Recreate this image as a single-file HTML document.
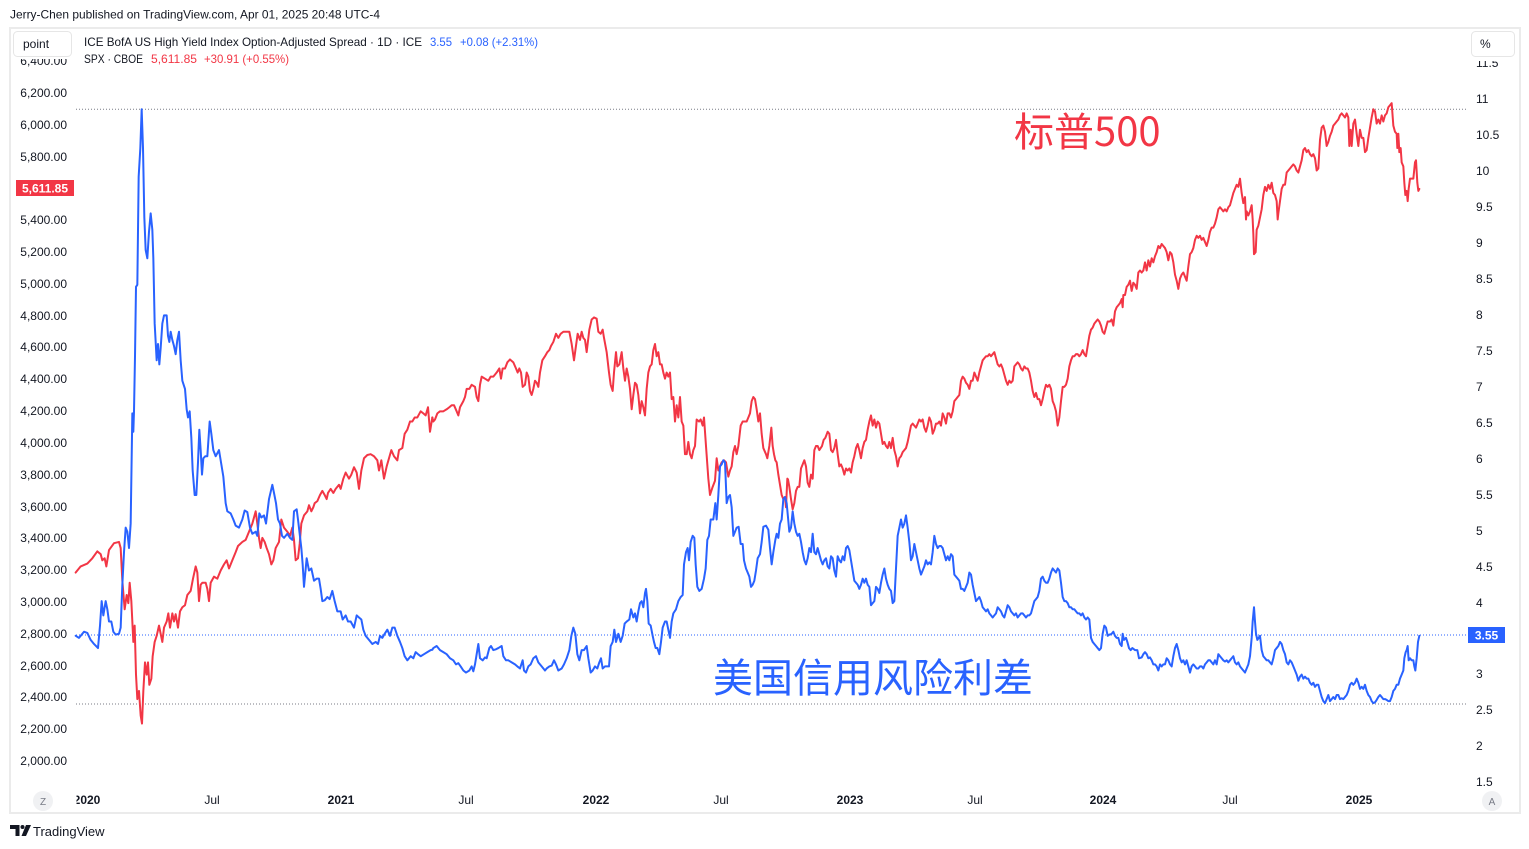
<!DOCTYPE html>
<html>
<head>
<meta charset="utf-8">
<style>
  html,body{margin:0;padding:0;background:#fff;}
  body{width:1529px;height:849px;overflow:hidden;position:relative;font-family:"Liberation Sans","Noto Sans CJK SC",sans-serif;}
  svg{position:absolute;left:0;top:0;}
  .ax{font-family:"Liberation Sans",sans-serif;font-size:12px;fill:#131722;}
  .lg{font-family:"Liberation Sans",sans-serif;font-size:12px;}
</style>
</head>
<body>
<svg width="1529" height="849" viewBox="0 0 1529 849" xmlns="http://www.w3.org/2000/svg">
  <defs>
    <clipPath id="xclip"><rect x="76.5" y="785" width="1390" height="25"/></clipPath>
  </defs>
  <!-- header -->
  <text x="10" y="18.5" class="lg" fill="#131722" textLength="370" lengthAdjust="spacingAndGlyphs">Jerry-Chen published on TradingView.com, Apr 01, 2025 20:48 UTC-4</text>

  <!-- frame -->
  <rect x="10" y="28" width="1510" height="785" fill="#fff" stroke="#ebebeb" stroke-width="2"/>

  <!-- left axis labels -->
  <g class="ax" text-anchor="end">
    <text x="67" y="65">6,400.00</text>
    <text x="67" y="97">6,200.00</text>
    <text x="67" y="129">6,000.00</text>
    <text x="67" y="161">5,800.00</text>
    <text x="67" y="224">5,400.00</text>
    <text x="67" y="256">5,200.00</text>
    <text x="67" y="288">5,000.00</text>
    <text x="67" y="320">4,800.00</text>
    <text x="67" y="351">4,600.00</text>
    <text x="67" y="383">4,400.00</text>
    <text x="67" y="415">4,200.00</text>
    <text x="67" y="447">4,000.00</text>
    <text x="67" y="479">3,800.00</text>
    <text x="67" y="511">3,600.00</text>
    <text x="67" y="542">3,400.00</text>
    <text x="67" y="574">3,200.00</text>
    <text x="67" y="606">3,000.00</text>
    <text x="67" y="638">2,800.00</text>
    <text x="67" y="670">2,600.00</text>
    <text x="67" y="701">2,400.00</text>
    <text x="67" y="733">2,200.00</text>
    <text x="67" y="765">2,000.00</text>
  </g>

  <!-- right axis labels -->
  <g class="ax" text-anchor="start">
    <text x="1476" y="67">11.5</text>
    <text x="1476" y="103">11</text>
    <text x="1476" y="139">10.5</text>
    <text x="1476" y="175">10</text>
    <text x="1476" y="211">9.5</text>
    <text x="1476" y="247">9</text>
    <text x="1476" y="283">8.5</text>
    <text x="1476" y="319">8</text>
    <text x="1476" y="355">7.5</text>
    <text x="1476" y="391">7</text>
    <text x="1476" y="427">6.5</text>
    <text x="1476" y="463">6</text>
    <text x="1476" y="499">5.5</text>
    <text x="1476" y="535">5</text>
    <text x="1476" y="571">4.5</text>
    <text x="1476" y="607">4</text>
    <text x="1476" y="678">3</text>
    <text x="1476" y="714">2.5</text>
    <text x="1476" y="750">2</text>
    <text x="1476" y="786">1.5</text>
  </g>

  <!-- x axis labels -->
  <g class="ax" text-anchor="middle" clip-path="url(#xclip)">
    <text x="87" y="804" font-weight="bold">2020</text>
    <text x="212" y="804">Jul</text>
    <text x="341" y="804" font-weight="bold">2021</text>
    <text x="466" y="804">Jul</text>
    <text x="596" y="804" font-weight="bold">2022</text>
    <text x="721" y="804">Jul</text>
    <text x="850" y="804" font-weight="bold">2023</text>
    <text x="975" y="804">Jul</text>
    <text x="1103" y="804" font-weight="bold">2024</text>
    <text x="1230" y="804">Jul</text>
    <text x="1359" y="804" font-weight="bold">2025</text>
  </g>

  <!-- Z / A buttons -->
  <circle cx="43" cy="801" r="10" fill="#f0f1f3"/>
  <text x="43" y="805" font-family="Liberation Sans, sans-serif" font-size="10" fill="#787b86" text-anchor="middle">Z</text>
  <circle cx="1492" cy="801" r="10" fill="#f0f1f3"/>
  <text x="1492" y="805" font-family="Liberation Sans, sans-serif" font-size="10" fill="#787b86" text-anchor="middle">A</text>

  <!-- dotted lines -->
  <line x1="76" y1="109.3" x2="1466" y2="109.3" stroke="#787b86" stroke-width="1" stroke-dasharray="1,2"/>
  <line x1="76" y1="704" x2="1466" y2="704" stroke="#787b86" stroke-width="1" stroke-dasharray="1,2"/>
  <line x1="76" y1="635" x2="1468" y2="635" stroke="#2962ff" stroke-width="1" stroke-dasharray="1,2"/>

  <!-- Chinese annotations -->
  <text x="1014" y="146" font-family="Noto Sans CJK SC, sans-serif" font-size="40" fill="#f23645">标普500</text>
  <text x="713" y="692" font-family="Noto Sans CJK SC, sans-serif" font-size="40" fill="#2962ff">美国信用风险利差</text>

  <!-- SPX red -->
  <g fill="none" stroke="#f23645" stroke-width="2" stroke-linejoin="round" stroke-linecap="round">
    <polyline vector-effect="non-scaling-stroke" transform="translate(74,95) scale(0.333333,0.408163)" points="5,1170 20,1155 40,1148 55,1135 70,1118 80,1125 85,1140 92,1135 97,1155 105,1115 120,1098 135,1095 140,1110 145,1190 152,1260 158,1225 163,1245 167,1195 172,1240 178,1340 182,1300 186,1420 190,1480 195,1460 200,1520 204,1540 208,1460 213,1390 218,1420 222,1390 226,1445 232,1430 236,1375 242,1340 248,1325 255,1300 260,1320 265,1340 270,1305 278,1290 283,1270 288,1305 295,1270 300,1290 305,1272 312,1305 318,1265 325,1255 333,1250 340,1225 350,1215 357,1185 365,1155 370,1170 375,1240 380,1200 385,1195 395,1195 400,1210 405,1240 410,1195 420,1180 430,1185 440,1165 450,1150 458,1140 465,1160 475,1140 485,1120 492,1105 505,1095 515,1090 525,1070 535,1050 545,1020 550,1050 555,1085 560,1110 565,1085 572,1095 578,1110 585,1125 592,1150 598,1140 605,1110 615,1095 622,1040 630,1060 640,1070 648,1080 655,1060 660,1090 665,1140 672,1135 677,1100 682,1050 690,1030 700,1020 705,1005 712,1020 718,1010 722,1000 730,995 738,980 745,970 752,980 758,990 762,975 770,965 778,975 785,965 795,955 800,965 808,940 815,925 825,940 832,930 840,912 848,925 855,965 862,920 870,890 880,882 890,880 900,885 910,895 915,920 922,895 930,940 938,910 945,890 952,870 960,885 970,895 975,870 985,865 992,830 1000,820 1008,800 1015,800 1022,790 1030,790 1040,775 1048,780 1055,785 1062,765 1068,825 1075,790"/>
    <polyline vector-effect="non-scaling-stroke" transform="translate(430,95) scale(0.333333,0.408163)" points="7,790 10,800 15,795 22,780 30,775 40,775 50,770 58,765 65,760 72,760 80,775 85,785 90,765 100,750 105,740 110,720 118,720 125,710 135,715 140,740 145,750 150,710 155,690 165,695 175,700 182,690 190,690 200,680 208,670 213,695 218,670 225,670 232,655 240,648 250,655 258,670 263,680 268,670 273,680 278,715 285,710 290,680 295,690 300,725 305,735 310,720 315,700 320,705 325,715 330,680 337,650 345,640 352,630 358,625 363,615 370,605 378,585 385,595 392,585 400,580 410,580 418,580 425,610 432,650 437,620 443,585 450,600 455,580 460,595 465,600 470,630 478,575 485,550 492,545 500,548 505,580 512,585 518,575 522,595 530,630 537,680 542,710 548,725 552,680 558,630 562,665 568,660 575,630 580,670 585,700 590,670 595,690 600,720 605,770 610,735 615,705 620,710 625,735 630,780 635,750 640,765 645,785 650,720 655,680 660,665 665,660 670,625 675,610 680,640 685,630 690,660 695,660 700,680 705,695 710,680 715,690 720,680 725,745 730,740 735,800 740,760 745,790 750,740 755,800 760,810 765,880 770,880 775,850 780,880 785,890 790,870 795,860 800,795 807,800 812,795 818,810 822,790 828,860 835,940 840,980 848,960 855,945 860,890 865,920 870,910 875,900 882,895 888,900 895,935 900,920 905,910 910,875 915,860 920,880 925,860 932,810 938,800 945,800 950,800 955,790 960,780 965,750 970,740 975,745 980,770 985,800 990,780 995,830 1000,865 1008,880 1012,890 1018,860 1024,815 1028,860 1032,880 1036,895 1040,900 1045,930 1050,955 1055,980 1060,990 1065,985 1068,1010 1072,940 1074,942"/>
    <polyline vector-effect="non-scaling-stroke" transform="translate(786,95) scale(0.333333,0.408163)" points="6,942 10,960 15,990 20,1015 25,1000 30,970 35,960 40,960 45,915 50,905 55,895 60,910 65,950 70,960 75,930 80,940 85,870 90,860 95,860 100,870 108,860 113,845 118,840 125,825 130,830 135,870 140,875 145,865 150,845 155,880 160,910 165,905 170,915 175,930 180,915 185,920 190,915 195,925 200,900 205,885 210,865 215,855 220,870 225,890 230,865 235,850 240,845 245,820 250,800 255,785 260,810 265,795 270,815 275,800 280,805 285,830 290,855 295,850 300,860 305,865 310,850 315,865 320,840 325,870 330,885 335,910 340,890 345,885 350,875 355,870 360,865 365,850 370,830 375,810 380,805 390,815 395,805 400,795 405,800 410,795 415,815 420,825 425,810 430,790 435,800 440,830 445,820 450,805 455,805 460,800 465,810 470,780 475,790 480,805 485,780 490,780 495,790 500,775 505,750 510,745 515,740 520,735 525,700 530,690 535,695 540,705 545,710 550,720 555,700 560,700 565,680 570,690 575,700 580,680 585,665 590,650 595,645 600,640 605,640 610,635 615,640 620,635 625,630 630,645 635,660 640,665 645,660 650,670 655,685 660,700 665,710 670,700 675,705 680,700 685,665 690,660 695,655 700,660 705,670 710,675 715,665 720,670 725,670 730,680 735,700 740,725 745,740 750,730 755,745 760,745 765,760 770,745 775,725 780,710 785,715 790,710 795,720 800,750 805,760 810,775 815,810 820,790 825,750 830,715 835,715 840,710 845,695 850,665 855,650 860,640 865,640 870,635 875,635 880,640 885,635 890,625 895,635 900,640 905,615 910,590 915,575 920,570 925,560 930,555 935,550 940,555 945,565 950,580 955,585 960,570 965,555 970,555"/>
    <polyline vector-effect="non-scaling-stroke" transform="translate(1110,95) scale(0.333333,0.408163)" points="0,555 5,550 10,565 15,530 20,520 25,515 30,510 35,500 38,520 40,490 45,490 50,470 55,465 60,455 65,480 70,460 75,465 80,475 85,435 90,430 95,435 100,430 105,410 110,430 115,405 120,420 125,400 130,410 135,395 140,385 145,370 150,375 155,365 160,370 165,375 170,385 175,405 180,385 185,390 190,410 195,440 200,455 205,475 210,450 215,440 220,435 225,445 230,455 235,420 240,390 245,385 250,375 255,355 260,345 265,350 270,345 275,355 280,350 285,360 290,370 295,355 300,335 305,325 310,325 315,315 320,300 325,280 330,275 335,280 340,285 345,280 350,285 355,275 360,270 365,255 370,240 375,230 380,220 385,225 390,205 395,240 400,265 405,250 408,305 410,285 415,295 420,285 425,270 428,305 430,340 432,390 437,385 440,330 445,320 450,300 455,280 460,245 465,225 470,235 475,220 480,230 485,215 490,240 495,245 500,260 503,305 505,290 510,260 515,230 520,220 525,220 530,190 535,185 540,180 545,175 550,170 555,175 560,185 565,190 570,175 575,160 580,135 585,130 590,140 595,135 600,145 605,150 610,145 615,155 620,185 625,180 630,110 635,80 640,75 645,90 650,125 655,115 660,100 665,90 670,75 675,70 680,65 685,60 690,50 695,45 700,50 705,55 710,45 715,55 718,125 722,85 725,125 730,70 735,60 740,95 745,125 750,85 755,105 760,105 765,140 770,135 775,105 780,80 785,55 790,35 795,40 800,70 805,60 810,70 815,50 820,65 825,50 830,45 835,30 840,25 845,20 850,75 855,90 860,95 862,130 865,95 868,140 872,130 875,165 880,175 883,215 886,245 890,235 893,260 896,230 900,205 905,205 910,205 915,165 918,160 922,215 925,235 928,230"/>
  </g>

  <!-- HY OAS blue -->
  <g fill="none" stroke="#2962ff" stroke-width="2" stroke-linejoin="round" stroke-linecap="round">
    <polyline vector-effect="non-scaling-stroke" transform="translate(74,95) scale(0.333333,0.408163)" points="5,1325 15,1330 30,1315 40,1318 50,1335 60,1345 72,1355 78,1300 83,1240 88,1275 95,1240 100,1260 105,1290 112,1290 118,1315 125,1322 135,1320 140,1305 145,1200 150,1120 155,1060 160,1070 165,1110 170,1050 175,780 178,825 180,775 183,640 186,470 190,465 194,200 199,130 203,35 207,130 211,300 215,380 220,400 225,335 230,290 235,330 238,400 242,560 248,650 252,610 256,660 260,620 265,560 270,540 278,540 282,590 286,605 290,580 295,600 300,615 305,635 310,600 315,580 320,650 325,700 333,720 338,770 342,790 347,775 352,840 356,920 362,980 367,980 372,900 376,820 380,870 384,930 388,890 394,885 400,885 407,800 412,830 418,870 425,885 435,870 442,905 448,935 455,1000 460,1020 470,1025 478,1040 485,1055 495,1060 505,1040 512,1018 520,1022 528,1060 535,1075 545,1070 550,1080 556,1025 562,1035 570,1030 576,1050 585,990 595,955 600,975 606,1000 612,1040 618,1050 624,1080 630,1085 640,1075 648,1085 655,1090 660,1020 668,1015 672,1040 677,1075 682,1110 686,1150 690,1205 694,1170 698,1135 705,1165 712,1160 720,1190 728,1185 735,1185 740,1210 745,1240 752,1238 760,1230 767,1235 775,1215 782,1240 790,1265 800,1265 806,1285 815,1275 822,1290 830,1290 840,1305 848,1275 855,1280 862,1285 868,1310 875,1325 885,1335 895,1345 905,1340 912,1345 918,1325 925,1330 932,1320 940,1310 948,1325 955,1305 962,1305 970,1325 978,1340 985,1355 992,1375 1000,1385 1010,1375 1018,1380 1025,1365 1032,1370 1040,1375 1050,1370 1060,1365 1070,1360 1075,1359"/>
    <polyline vector-effect="non-scaling-stroke" transform="translate(430,95) scale(0.333333,0.408163)" points="7,1359 10,1355 20,1350 30,1360 40,1365 50,1370 60,1380 70,1385 78,1395 85,1392 92,1400 100,1410 108,1415 118,1410 125,1400 130,1412 135,1395 140,1370 145,1345 150,1380 158,1385 165,1378 170,1380 178,1355 183,1350 190,1360 198,1358 205,1355 215,1350 220,1375 228,1385 235,1385 245,1390 255,1395 262,1400 270,1405 278,1385 282,1410 288,1415 295,1400 302,1395 310,1380 318,1375 325,1390 335,1400 345,1410 350,1405 358,1400 365,1398 372,1385 378,1395 385,1410 395,1405 402,1395 410,1380 418,1360 424,1325 430,1305 436,1320 442,1370 448,1385 455,1360 462,1360 470,1350 475,1380 482,1415 488,1410 495,1400 502,1405 508,1390 513,1380 518,1405 525,1400 530,1400 537,1400 542,1350 548,1340 553,1310 558,1340 565,1320 572,1340 578,1325 584,1295 590,1290 598,1285 603,1260 610,1280 615,1270 620,1290 625,1265 630,1245 635,1240 640,1255 645,1220 648,1210 652,1240 656,1295 662,1300 668,1325 672,1340 677,1355 682,1355 688,1370 693,1340 698,1305 705,1290 710,1290 715,1310 720,1330 725,1290 730,1270 738,1260 745,1240 752,1230 758,1225 762,1150 768,1120 773,1110 777,1140 782,1095 788,1080 793,1085 797,1150 802,1205 808,1215 815,1210 822,1185 827,1160 832,1090 837,1080 842,1040 850,1040 856,1000 860,1040 865,980 870,910 875,905 880,895 885,900 890,1000 895,985 900,980 905,1010 910,1080 915,1070 920,1060 926,1058 932,1100 938,1100 942,1140 948,1160 953,1170 958,1180 963,1205 968,1200 973,1190 978,1165 983,1135 990,1125 995,1095 1000,1058 1008,1055 1015,1065 1020,1110 1025,1150 1030,1120 1036,1090 1040,1075 1045,1085 1050,1050 1055,1040 1060,990 1065,985 1070,1000 1074,1035"/>
    <polyline vector-effect="non-scaling-stroke" transform="translate(786,95) scale(0.333333,0.408163)" points="6,1035 10,1070 15,1060 20,1020 25,1050 30,1070 35,1080 40,1075 45,1095 50,1120 55,1140 60,1150 65,1135 70,1110 75,1120 80,1075 85,1120 90,1125 95,1110 100,1125 105,1140 110,1150 115,1140 120,1135 125,1155 130,1160 135,1130 140,1135 145,1165 150,1180 155,1130 160,1140 165,1145 170,1130 175,1140 180,1110 185,1105 190,1115 195,1140 200,1165 205,1190 210,1195 215,1200 220,1210 225,1200 230,1185 235,1195 240,1185 245,1200 250,1205 255,1250 260,1245 265,1240 270,1205 275,1210 280,1220 285,1195 290,1175 295,1160 300,1185 305,1200 310,1210 315,1215 320,1245 325,1240 330,1160 335,1080 340,1060 345,1040 350,1060 355,1050 360,1030 365,1060 370,1095 375,1140 380,1130 385,1100 390,1120 395,1140 400,1160 405,1175 410,1165 415,1155 420,1140 425,1150 430,1145 435,1150 440,1120 445,1080 450,1100 455,1110 460,1105 465,1105 470,1110 475,1125 480,1140 485,1130 490,1140 495,1125 500,1130 505,1175 510,1180 515,1185 520,1190 525,1210 530,1210 535,1215 540,1205 545,1195 550,1170 555,1175 560,1200 565,1220 570,1240 575,1235 580,1230 585,1240 590,1255 595,1260 600,1265 605,1260 610,1270 615,1275 620,1280 625,1275 630,1270 635,1255 640,1260 645,1265 650,1275 655,1280 660,1265 665,1250 670,1255 675,1265 680,1270 685,1275 690,1270 695,1280 700,1275 705,1270 710,1270 715,1275 720,1280 725,1275 730,1275 735,1270 740,1255 745,1240 750,1235 755,1230 760,1215 765,1185 770,1180 775,1190 780,1195 785,1195 790,1185 795,1170 800,1160 805,1165 810,1170 815,1160 820,1165 825,1195 830,1230 835,1240 840,1240 845,1245 850,1255 855,1255 860,1260 865,1260 870,1265 875,1270 880,1270 885,1275 890,1270 895,1280 900,1285 905,1280 910,1285 915,1330 920,1340 925,1345 930,1350 935,1355 940,1360 945,1355 950,1320 955,1300 960,1305 965,1325 970,1322"/>
    <polyline vector-effect="non-scaling-stroke" transform="translate(1110,95) scale(0.333333,0.408163)" points="0,1322 5,1320 10,1315 15,1325 20,1330 25,1330 30,1345 35,1350 38,1320 42,1335 48,1330 52,1340 57,1355 62,1360 67,1355 75,1360 82,1360 87,1380 95,1378 100,1370 105,1365 110,1370 115,1380 120,1378 125,1385 130,1395 135,1395 140,1400 145,1410 150,1395 155,1400 160,1395 165,1395 170,1380 175,1385 180,1395 185,1400 190,1375 195,1355 200,1345 205,1360 210,1380 215,1390 220,1385 225,1395 230,1385 235,1400 240,1415 245,1400 250,1395 255,1400 260,1405 265,1405 270,1400 275,1400 280,1405 285,1395 290,1390 295,1385 300,1385 305,1390 310,1395 315,1385 320,1395 325,1370 330,1375 335,1380 340,1385 345,1388 350,1385 355,1390 360,1385 365,1380 370,1375 375,1390 380,1395 385,1390 390,1400 395,1405 400,1410 405,1415 410,1405 415,1395 420,1375 425,1330 428,1290 432,1255 435,1290 438,1320 442,1335 446,1330 450,1325 455,1360 460,1375 465,1380 470,1385 475,1385 480,1390 485,1395 490,1380 495,1360 500,1355 505,1350 510,1340 515,1345 520,1360 525,1370 530,1390 535,1395 540,1385 545,1390 550,1400 555,1410 560,1420 565,1435 570,1425 575,1420 580,1430 585,1425 590,1430 595,1430 600,1440 605,1445 610,1440 615,1450 620,1445 625,1445 630,1460 635,1475 640,1485 645,1490 650,1480 655,1470 660,1485 665,1480 670,1475 675,1480 680,1470 685,1470 690,1480 695,1478 700,1480 705,1475 710,1470 715,1460 720,1445 725,1440 730,1445 735,1440 740,1430 745,1440 750,1455 755,1450 760,1455 765,1445 770,1460 775,1470 780,1475 785,1485 790,1490 795,1488 800,1482 805,1475 810,1470 815,1475 820,1480 825,1480 830,1482 835,1485 840,1485 845,1475 850,1460 855,1455 860,1445 865,1445 870,1430 875,1420 880,1410 883,1380 887,1365 890,1360 893,1350 896,1385 900,1380 905,1385 910,1385 913,1400 916,1410 920,1380 924,1340 928,1325"/>
  </g>

  <!-- cover strips that clip the top axis labels -->
  <rect x="12" y="30" width="64" height="29" fill="#fff"/>
  <rect x="1468" y="30" width="50" height="31" fill="#fff"/>

  <!-- point / % boxes -->
  <rect x="13.5" y="31.5" width="58" height="25" rx="4" fill="#fff" stroke="#e6e6e6" stroke-width="1"/>
  <text x="23" y="48" class="lg" fill="#131722">point</text>
  <rect x="1471.5" y="31.5" width="43" height="25" rx="4" fill="#fff" stroke="#e6e6e6" stroke-width="1"/>
  <text x="1480" y="48" class="lg" fill="#131722">%</text>

  <!-- legend -->
  <text x="84" y="46" class="lg" fill="#131722" textLength="338" lengthAdjust="spacingAndGlyphs">ICE BofA US High Yield Index Option-Adjusted Spread · 1D · ICE</text>
  <text x="430" y="46" class="lg" fill="#2962ff" textLength="22" lengthAdjust="spacingAndGlyphs">3.55</text>
  <text x="460" y="46" class="lg" fill="#2962ff" textLength="78" lengthAdjust="spacingAndGlyphs">+0.08 (+2.31%)</text>
  <text x="84" y="63" class="lg" fill="#131722" textLength="59" lengthAdjust="spacingAndGlyphs">SPX · CBOE</text>
  <text x="151" y="63" class="lg" fill="#f23645" textLength="46" lengthAdjust="spacingAndGlyphs">5,611.85</text>
  <text x="204" y="63" class="lg" fill="#f23645" textLength="85" lengthAdjust="spacingAndGlyphs">+30.91 (+0.55%)</text>

  <!-- price labels -->
  <rect x="16" y="180" width="58" height="16" fill="#f23645"/>
  <text x="45" y="192.5" font-family="Liberation Sans, sans-serif" font-size="12" font-weight="bold" fill="#fff" text-anchor="middle">5,611.85</text>
  <rect x="1468" y="627" width="37" height="16" fill="#2962ff"/>
  <text x="1486.5" y="639.5" font-family="Liberation Sans, sans-serif" font-size="12" font-weight="bold" fill="#fff" text-anchor="middle">3.55</text>

  <!-- TradingView logo -->
  <path d="M10,825 H19.5 V836 H15.5 V829 H10 Z" fill="#131722"/>
  <circle cx="22.5" cy="827" r="2" fill="#131722"/>
  <path d="M26,825 H31 L26,836 H21.5 Z" fill="#131722"/>
  <text x="33" y="836" font-family="Liberation Sans, sans-serif" font-size="13" fill="#131722">TradingView</text>
</svg>
</body>
</html>
